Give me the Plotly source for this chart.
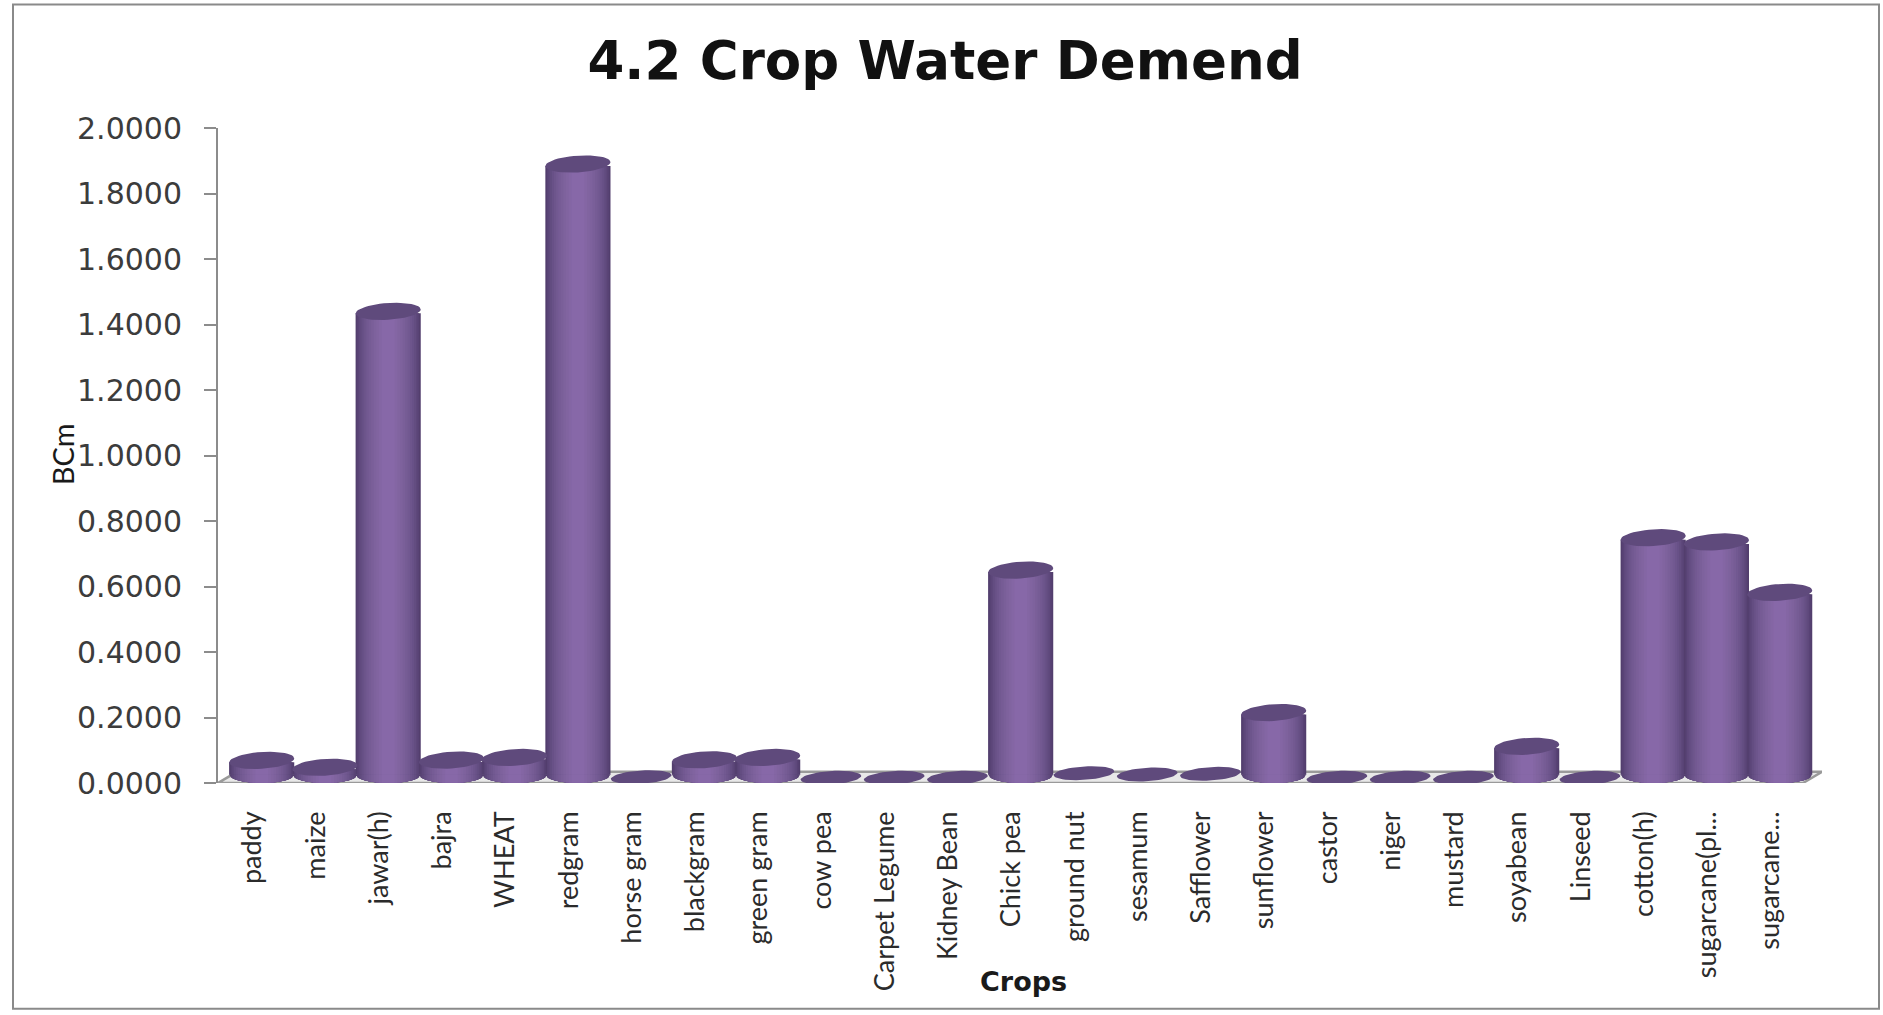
import numpy as np
import plotly.graph_objects as go

crops = ["paddy", "maize", "jawar(h)", "bajra", "WHEAT", "redgram", "horse gram", "blackgram",
         "green gram", "cow pea", "Carpet Legume", "Kidney Bean", "Chick pea", "ground nut",
         "sesamum", "Safflower", "sunflower", "castor", "niger", "mustard", "soyabean", "Linseed",
         "cotton(h)", "sugarcane(pl...", "sugarcane..."]
bcm = [0.069, 0.048, 1.440, 0.070, 0.078, 1.890, 0.018, 0.071, 0.078, 0.016, 0.016, 0.016, 0.650,
       0.030, 0.026, 0.028, 0.215, 0.016, 0.016, 0.016, 0.112, 0.016, 0.749, 0.736, 0.582]
y_ticks = [0.0, 0.2, 0.4, 0.6, 0.8, 1.0, 1.2, 1.4, 1.6, 1.8, 2.0]

# cylinder shading, outermost strip first
strip_widths = [1.03, 0.98, 0.93, 0.88, 0.82, 0.76, 0.69, 0.62, 0.54, 0.46, 0.38, 0.29, 0.20]
strip_colors = ["#523e6d", "#584375", "#5e487b", "#634d81", "#685187", "#6d558c", "#725991",
                "#765c95", "#7a5f99", "#7e629d", "#8164a0", "#8466a4", "#8768a8"]
cap_color = "#5f4a7c"

W, H = 1883, 1015
L, R, T, B = 218, 1822, 127.5, 783
slot = 63.25
origin = 252.5   # pixel of the first tick label
x_min = (L - origin) / slot
x_max = (R - origin) / slot
bar_shift = 0.145
cap_h = 0.0256   # half height of a cylinder end, in axis units
top_trim = 0.006


def px(x):
    return (x - L) / (R - L)


def py(y):
    return (B - y) / (B - T)


x_pos = [i + bar_shift for i in range(len(crops))]
tall = [v > 0.04 for v in bcm]

fig = go.Figure()

for w, c in zip(strip_widths, strip_colors):
    fig.add_trace(go.Bar(x=x_pos, y=[max(v - cap_h - top_trim, 0) if t else 0 for v, t in zip(bcm, tall)],
                         base=cap_h, width=w, marker=dict(color=c, line=dict(width=0)),
                         hoverinfo="skip", showlegend=False))

# round bottom of each cylinder
for w, c in zip(strip_widths, strip_colors):
    xs, ys = [], []
    dx = np.linspace(-w / 2, w / 2, 25)
    arc = cap_h * (1 - np.sqrt(np.clip(1 - (dx / (strip_widths[0] / 2)) ** 2, 0, 1)))
    for xc, t in zip(x_pos, tall):
        if t:
            xs += list(xc + dx) + [xc + w / 2, xc - w / 2, None]
            ys += list(arc) + [cap_h + 0.001, cap_h + 0.001, None]
    fig.add_trace(go.Scatter(x=xs, y=ys, mode="lines", fill="toself", fillcolor=c, line=dict(width=0),
                             hoverinfo="skip", showlegend=False, cliponaxis=False))

# top caps
xs, ys = [], []
a = np.linspace(0, 2 * np.pi, 49)
for xc, v, t in zip(x_pos, bcm, tall):
    half = strip_widths[0] / 2 if t else 0.48
    dx = half * np.cos(a)
    xs += list(xc + dx) + [None]
    ys += list(v + cap_h * np.sin(a) * (1 if t else 0.8) + 0.012 * dx) + [None]
fig.add_trace(go.Scatter(x=xs, y=ys, mode="lines", fill="toself", fillcolor=cap_color, line=dict(width=0),
                         hoverinfo="skip", showlegend=False, cliponaxis=False))

floor_back = 0.034
floor_path = (f"M {x_min} 0 L {(1803 - origin) / slot} 0 L {x_max} {floor_back} "
              f"L {x_min + 0.3} {floor_back} Z")

fig.update_layout(
    width=W, height=H,
    margin=dict(l=L, r=W - R, t=T, b=H - B, autoexpand=False),
    paper_bgcolor="white", plot_bgcolor="white",
    barmode="overlay", showlegend=False,
    title=dict(text="<b>4.2 Crop Water Demend</b>", x=945 / W, xanchor="center", y=1 - 60 / H, yanchor="middle",
               font=dict(family="DejaVu Sans", size=53, color="#111111")),
    xaxis=dict(range=[x_min, x_max], tickmode="array", tickvals=list(range(len(crops))), ticktext=crops,
               tickangle=-90, showgrid=False, zeroline=False, showline=False, ticks="", ticklabelstandoff=22,
               tickfont=dict(family="Lato", size=27, color="#2b2b2b")),
    yaxis=dict(range=[0, 2], tickmode="array", tickvals=y_ticks, tickformat=".4f", showgrid=False, zeroline=False,
               showline=True, linecolor="#8c8c8c", linewidth=2, ticks="outside", ticklen=12, tickwidth=2,
               tickcolor="#8c8c8c", ticklabelstandoff=16,
               tickfont=dict(family="DejaVu Sans", size=30, color="#3c3c3c")),
    shapes=[
        dict(type="path", path=floor_path, xref="x", yref="y", layer="below",
             fillcolor="#e8e8e8", line=dict(color="#9a9a9a", width=2.5)),
        dict(type="rect", xref="paper", yref="paper", x0=px(13), x1=px(1879), y0=py(1009), y1=py(4),
             line=dict(color="#8a8a8a", width=2), fillcolor="rgba(0,0,0,0)", layer="below"),
    ],
    annotations=[
        dict(text="<b>Crops</b>", xref="paper", yref="paper", x=px(1024), y=py(982), showarrow=False,
             xanchor="center", yanchor="middle", font=dict(family="DejaVu Sans", size=27, color="#1a1a1a")),
        dict(text="BCm", xref="paper", yref="paper", x=px(62), y=py(454), showarrow=False, textangle=-90,
             xanchor="center", yanchor="middle", font=dict(family="Lato", size=29, color="#1a1a1a")),
    ],
)

fig.write_html("out.html", config=dict(displayModeBar=False), post_script="document.body.style.margin='0';")
